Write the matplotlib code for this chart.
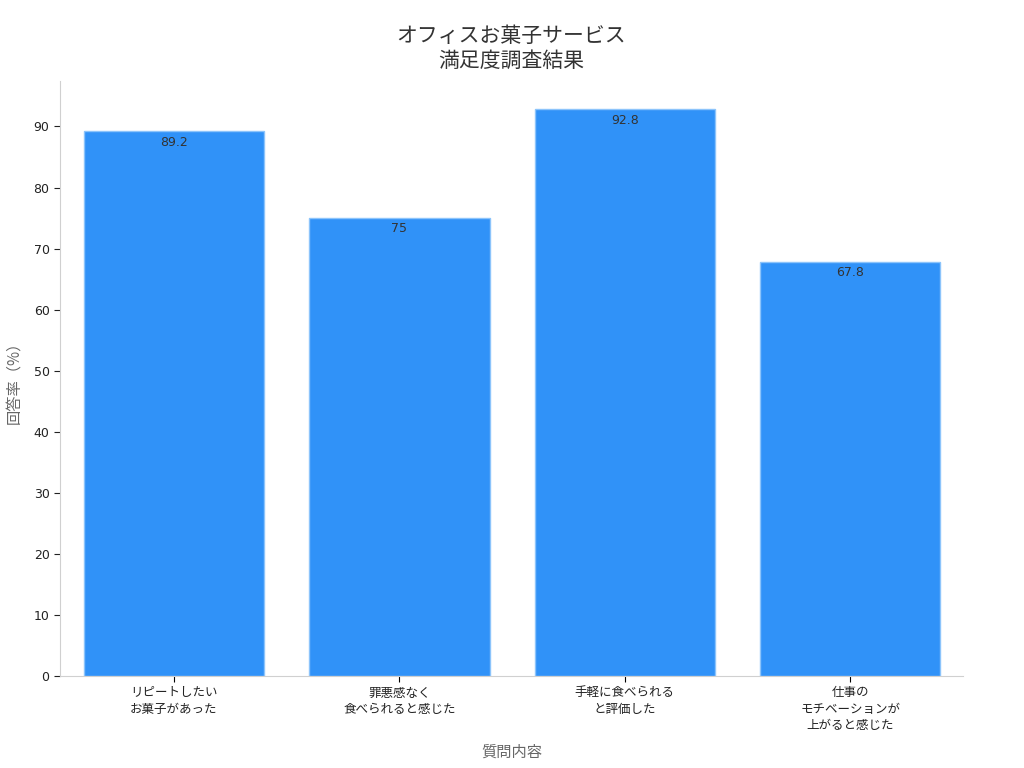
import matplotlib
matplotlib.use("Agg")
import matplotlib.pyplot as plt

plt.rcParams['font.family'] = ['Noto Sans CJK JP', 'DejaVu Sans']

categories = ["リピートしたい\nお菓子があった", "罪悪感なく\n食べられると感じた",
              "手軽に食べられる\nと評価した", "仕事の\nモチベーションが\n上がると感じた"]
values = [89.2, 75, 92.8, 67.8]
value_labels = ["89.2", "75", "92.8", "67.8"]

fig = plt.figure(figsize=(10.24, 7.68), dpi=100)
ax = fig.add_axes([0.0586, 0.1198, 0.8818, 0.7747])

x = list(range(len(categories)))
bars = ax.bar(x, values, width=0.8, color="#3092F8", edgecolor="#8CC4FB", linewidth=1)
for b, lab in zip(bars, value_labels):
    ax.annotate(lab, (b.get_x() + b.get_width() / 2, b.get_height()),
                xytext=(0, -3), textcoords="offset points",
                ha="center", va="top", fontsize=9, color="#333333",
                family="DejaVu Sans")

ax.set_xlim(-0.505, 3.5)
ax.set_ylim(0, max(values) * 1.05)
ax.set_xticks(x)
ax.set_xticklabels(categories, fontsize=9, color="#222222", linespacing=1.35)
ax.set_yticks(range(0, 100, 10))
ax.set_yticklabels([str(v) for v in range(0, 100, 10)], family="DejaVu Sans")
ax.tick_params(axis="y", labelsize=9, colors="#222222", length=4)
ax.tick_params(axis="x", length=4)
for t in ax.get_yticklines() + ax.get_xticklines():
    t.set_color("#666666")

for s in ["top", "right"]:
    ax.spines[s].set_visible(False)
for s in ["left", "bottom"]:
    ax.spines[s].set_color("#d0d0d0")

ax.set_xlabel("質問内容", fontsize=11, color="#666666", labelpad=8)
ax.set_ylabel("回答率（%）", fontsize=11, color="#666666", labelpad=8)
ax.set_title("オフィスお菓子サービス\n満足度調査結果", fontsize=15, color="#333333", pad=10)

fig.savefig("out.png", dpi=100)
